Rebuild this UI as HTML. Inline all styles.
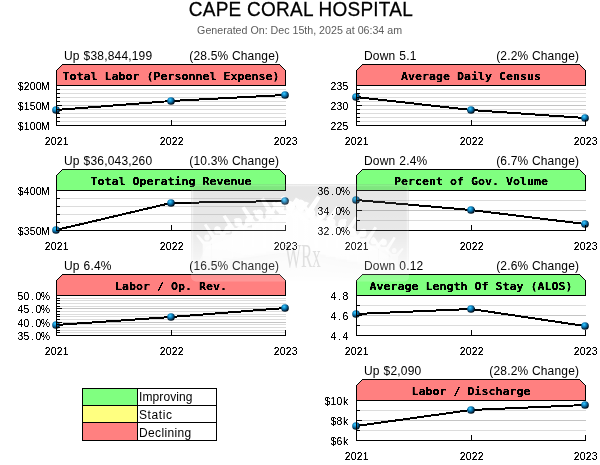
<!DOCTYPE html>
<html lang="en">
<head>
<meta charset="utf-8">
<title>CAPE CORAL HOSPITAL</title>
<style>
html,body{margin:0;padding:0;background:#fff;}
body{width:600px;height:465px;overflow:hidden;}
svg{display:block;}
.t{font-family:"Liberation Sans",Arial,sans-serif;fill:#000;}
.h1{font-size:19px;letter-spacing:0.25px;stroke:#000;stroke-width:0.25px;}
.sub{font-size:10.67px;fill:#5c5c5c;}
.s{font-size:12px;letter-spacing:0.18px;word-spacing:0.4px;}
.sr{font-size:12px;letter-spacing:0.18px;}
.lg{font-size:12px;}
.d{font-family:"Liberation Sans",Arial,sans-serif;font-size:10.4px;fill:#000;filter:url(#thin);}
.b{font-family:"DejaVu Sans Mono","Liberation Mono",monospace;font-weight:bold;font-size:11.63px;fill:#000;filter:url(#crisp);}
.ax{stroke:#000;stroke-width:1;fill:none;}
.g1{stroke:#dcdcdc;stroke-width:1;}
.g2{stroke:#c4c4c4;stroke-width:1;}
.ln{stroke:#000;stroke-width:2;fill:none;}
</style>
</head>
<body>
<svg width="600" height="465" viewBox="0 0 600 465">
<defs>
<radialGradient id="ball" cx="0.38" cy="0.33" r="0.74">
<stop offset="0" stop-color="#48d4ff"/>
<stop offset="0.14" stop-color="#26b0ea"/>
<stop offset="0.36" stop-color="#1084c0"/>
<stop offset="0.58" stop-color="#075280"/>
<stop offset="0.8" stop-color="#011c30"/>
<stop offset="1" stop-color="#00060c"/>
</radialGradient>
<filter id="crisp" x="-5%" y="-30%" width="110%" height="160%" color-interpolation-filters="sRGB"><feComponentTransfer><feFuncA type="linear" slope="2.5" intercept="-0.4"/></feComponentTransfer></filter>
<filter id="thin" x="-5%" y="-30%" width="110%" height="160%" color-interpolation-filters="sRGB"><feComponentTransfer><feFuncA type="linear" slope="2.8" intercept="-0.7"/></feComponentTransfer></filter>
</defs>
<rect x="0" y="0" width="600" height="465" fill="#fff"/>
<text class="t h1" transform="translate(300.9,16.1) scale(1,1.07)" text-anchor="middle">CAPE CORAL HOSPITAL</text>
<text class="t sub" x="299.6" y="33.5" text-anchor="middle">Generated On: Dec 15th, 2025 at 06:34 am</text>
<g shape-rendering="crispEdges">
<line class="g1" x1="57" y1="89.5" x2="286" y2="89.5"/>
<line class="g1" x1="57" y1="93.5" x2="286" y2="93.5"/>
<line class="g1" x1="57" y1="97.5" x2="286" y2="97.5"/>
<line class="g1" x1="57" y1="101.5" x2="286" y2="101.5"/>
<line class="g2" x1="57" y1="105.5" x2="286" y2="105.5"/>
<line class="g1" x1="57" y1="109.5" x2="286" y2="109.5"/>
<line class="g1" x1="57" y1="113.5" x2="286" y2="113.5"/>
<line class="g1" x1="57" y1="117.5" x2="286" y2="117.5"/>
<line class="g1" x1="57" y1="121.5" x2="286" y2="121.5"/>
<polyline class="ln" points="56,110 171,101 285,95"/>
</g>
<circle cx="56" cy="110" r="3.85" fill="url(#ball)"/>
<circle cx="171" cy="101" r="3.85" fill="url(#ball)"/>
<circle cx="285" cy="95" r="3.85" fill="url(#ball)"/>
<g shape-rendering="crispEdges">
<line class="ax" x1="57" y1="85.5" x2="62" y2="85.5"/>
<line class="ax" x1="57" y1="89.5" x2="60" y2="89.5"/>
<line class="ax" x1="57" y1="93.5" x2="60" y2="93.5"/>
<line class="ax" x1="57" y1="97.5" x2="60" y2="97.5"/>
<line class="ax" x1="57" y1="101.5" x2="60" y2="101.5"/>
<line class="ax" x1="57" y1="105.5" x2="62" y2="105.5"/>
<line class="ax" x1="57" y1="109.5" x2="60" y2="109.5"/>
<line class="ax" x1="57" y1="113.5" x2="60" y2="113.5"/>
<line class="ax" x1="57" y1="117.5" x2="60" y2="117.5"/>
<line class="ax" x1="57" y1="121.5" x2="60" y2="121.5"/>
<line class="ax" x1="57" y1="125.5" x2="62" y2="125.5"/>
<path class="ax" d="M56.5 85V125.5H286"/>
<path class="ax" d="M171.5 120v5M285.5 120v6"/>
<path d="M56.5 85.5V70.5L62.5 64.5H279.5L285.5 70.5V85.5Z" fill="#ff8080" stroke="#000" stroke-width="1"/>
</g>
<text class="b" transform="translate(171,80) scale(1,0.93)" text-anchor="middle">Total Labor (Personnel Expense)</text>
<text class="d" x="17.7" y="90.0" dx="0.11 0.22 0.22 0.22 -0.52">$200M</text>
<text class="d" x="17.7" y="110.0" dx="0.11 0.22 0.22 0.22 -0.52">$150M</text>
<text class="d" x="17.7" y="130.0" dx="0.11 0.22 0.22 0.22 -0.52">$100M</text>
<text class="d" x="44.7" y="145.0" dx="0.11 0.22 0.22 0.22">2021</text>
<text class="d" x="159.7" y="145.0" dx="0.11 0.22 0.22 0.22">2022</text>
<text class="d" x="273.7" y="145.0" dx="0.11 0.22 0.22 0.22">2023</text>
<text class="t s" x="64" y="59.5">Up $38,844,199</text>
<text class="t sr" x="279.2" y="59.5" text-anchor="end">(28.5% Change)</text>
<g shape-rendering="crispEdges">
<line class="g1" x1="57" y1="198.5" x2="286" y2="198.5"/>
<line class="g1" x1="57" y1="206.5" x2="286" y2="206.5"/>
<line class="g1" x1="57" y1="214.5" x2="286" y2="214.5"/>
<line class="g1" x1="57" y1="222.5" x2="286" y2="222.5"/>
<polyline class="ln" points="56,230 171,203 285,201"/>
</g>
<circle cx="56" cy="230" r="3.85" fill="url(#ball)"/>
<circle cx="171" cy="203" r="3.85" fill="url(#ball)"/>
<circle cx="285" cy="201" r="3.85" fill="url(#ball)"/>
<g shape-rendering="crispEdges">
<line class="ax" x1="57" y1="190.5" x2="62" y2="190.5"/>
<line class="ax" x1="57" y1="198.5" x2="60" y2="198.5"/>
<line class="ax" x1="57" y1="206.5" x2="60" y2="206.5"/>
<line class="ax" x1="57" y1="214.5" x2="60" y2="214.5"/>
<line class="ax" x1="57" y1="222.5" x2="60" y2="222.5"/>
<line class="ax" x1="57" y1="230.5" x2="62" y2="230.5"/>
<path class="ax" d="M56.5 190V230.5H286"/>
<path class="ax" d="M171.5 225v5M285.5 225v6"/>
<path d="M56.5 190.5V175.5L62.5 169.5H279.5L285.5 175.5V190.5Z" fill="#80ff80" stroke="#000" stroke-width="1"/>
</g>
<text class="b" transform="translate(171,185) scale(1,0.93)" text-anchor="middle">Total Operating Revenue</text>
<text class="d" x="17.7" y="195.0" dx="0.11 0.22 0.22 0.22 -0.52">$400M</text>
<text class="d" x="17.7" y="235.0" dx="0.11 0.22 0.22 0.22 -0.52">$350M</text>
<text class="d" x="44.7" y="250.0" dx="0.11 0.22 0.22 0.22">2021</text>
<text class="d" x="159.7" y="250.0" dx="0.11 0.22 0.22 0.22">2022</text>
<text class="d" x="273.7" y="250.0" dx="0.11 0.22 0.22 0.22">2023</text>
<text class="t s" x="64" y="164.5">Up $36,043,260</text>
<text class="t sr" x="279.2" y="164.5" text-anchor="end">(10.3% Change)</text>
<g shape-rendering="crispEdges">
<line class="g1" x1="57" y1="298.5" x2="286" y2="298.5"/>
<line class="g1" x1="57" y1="300.5" x2="286" y2="300.5"/>
<line class="g1" x1="57" y1="303.5" x2="286" y2="303.5"/>
<line class="g1" x1="57" y1="306.5" x2="286" y2="306.5"/>
<line class="g2" x1="57" y1="308.5" x2="286" y2="308.5"/>
<line class="g1" x1="57" y1="311.5" x2="286" y2="311.5"/>
<line class="g1" x1="57" y1="314.5" x2="286" y2="314.5"/>
<line class="g1" x1="57" y1="316.5" x2="286" y2="316.5"/>
<line class="g1" x1="57" y1="319.5" x2="286" y2="319.5"/>
<line class="g2" x1="57" y1="322.5" x2="286" y2="322.5"/>
<line class="g1" x1="57" y1="324.5" x2="286" y2="324.5"/>
<line class="g1" x1="57" y1="327.5" x2="286" y2="327.5"/>
<line class="g1" x1="57" y1="330.5" x2="286" y2="330.5"/>
<line class="g1" x1="57" y1="332.5" x2="286" y2="332.5"/>
<polyline class="ln" points="56,325 171,317 285,308"/>
</g>
<circle cx="56" cy="325" r="3.85" fill="url(#ball)"/>
<circle cx="171" cy="317" r="3.85" fill="url(#ball)"/>
<circle cx="285" cy="308" r="3.85" fill="url(#ball)"/>
<g shape-rendering="crispEdges">
<line class="ax" x1="57" y1="295.5" x2="62" y2="295.5"/>
<line class="ax" x1="57" y1="298.5" x2="60" y2="298.5"/>
<line class="ax" x1="57" y1="300.5" x2="60" y2="300.5"/>
<line class="ax" x1="57" y1="303.5" x2="60" y2="303.5"/>
<line class="ax" x1="57" y1="306.5" x2="60" y2="306.5"/>
<line class="ax" x1="57" y1="308.5" x2="62" y2="308.5"/>
<line class="ax" x1="57" y1="311.5" x2="60" y2="311.5"/>
<line class="ax" x1="57" y1="314.5" x2="60" y2="314.5"/>
<line class="ax" x1="57" y1="316.5" x2="60" y2="316.5"/>
<line class="ax" x1="57" y1="319.5" x2="60" y2="319.5"/>
<line class="ax" x1="57" y1="322.5" x2="62" y2="322.5"/>
<line class="ax" x1="57" y1="324.5" x2="60" y2="324.5"/>
<line class="ax" x1="57" y1="327.5" x2="60" y2="327.5"/>
<line class="ax" x1="57" y1="330.5" x2="60" y2="330.5"/>
<line class="ax" x1="57" y1="332.5" x2="60" y2="332.5"/>
<line class="ax" x1="57" y1="335.5" x2="62" y2="335.5"/>
<path class="ax" d="M56.5 295V335.5H286"/>
<path class="ax" d="M171.5 330v5M285.5 330v6"/>
<path d="M56.5 295.5V280.5L62.5 274.5H279.5L285.5 280.5V295.5Z" fill="#ff8080" stroke="#000" stroke-width="1"/>
</g>
<text class="b" transform="translate(171,290) scale(1,0.93)" text-anchor="middle">Labor / Op. Rev.</text>
<text class="d" x="17.4" y="300.0" dx="0.11 0.22 1.66 1.66 -0.56">50.0%</text>
<text class="d" x="17.4" y="313.3" dx="0.11 0.22 1.66 1.66 -0.56">45.0%</text>
<text class="d" x="17.4" y="326.7" dx="0.11 0.22 1.66 1.66 -0.56">40.0%</text>
<text class="d" x="17.4" y="340.0" dx="0.11 0.22 1.66 1.66 -0.56">35.0%</text>
<text class="d" x="44.7" y="355.0" dx="0.11 0.22 0.22 0.22">2021</text>
<text class="d" x="159.7" y="355.0" dx="0.11 0.22 0.22 0.22">2022</text>
<text class="d" x="273.7" y="355.0" dx="0.11 0.22 0.22 0.22">2023</text>
<text class="t s" x="64" y="269.5">Up 6.4%</text>
<text class="t sr" x="279.2" y="269.5" text-anchor="end">(16.5% Change)</text>
<g shape-rendering="crispEdges">
<line class="g1" x1="357" y1="89.5" x2="586" y2="89.5"/>
<line class="g1" x1="357" y1="93.5" x2="586" y2="93.5"/>
<line class="g1" x1="357" y1="97.5" x2="586" y2="97.5"/>
<line class="g1" x1="357" y1="101.5" x2="586" y2="101.5"/>
<line class="g2" x1="357" y1="105.5" x2="586" y2="105.5"/>
<line class="g1" x1="357" y1="109.5" x2="586" y2="109.5"/>
<line class="g1" x1="357" y1="113.5" x2="586" y2="113.5"/>
<line class="g1" x1="357" y1="117.5" x2="586" y2="117.5"/>
<line class="g1" x1="357" y1="121.5" x2="586" y2="121.5"/>
<polyline class="ln" points="356,97 471,110 585,118"/>
</g>
<circle cx="356" cy="97" r="3.85" fill="url(#ball)"/>
<circle cx="471" cy="110" r="3.85" fill="url(#ball)"/>
<circle cx="585" cy="118" r="3.85" fill="url(#ball)"/>
<g shape-rendering="crispEdges">
<line class="ax" x1="357" y1="85.5" x2="362" y2="85.5"/>
<line class="ax" x1="357" y1="89.5" x2="360" y2="89.5"/>
<line class="ax" x1="357" y1="93.5" x2="360" y2="93.5"/>
<line class="ax" x1="357" y1="97.5" x2="360" y2="97.5"/>
<line class="ax" x1="357" y1="101.5" x2="360" y2="101.5"/>
<line class="ax" x1="357" y1="105.5" x2="362" y2="105.5"/>
<line class="ax" x1="357" y1="109.5" x2="360" y2="109.5"/>
<line class="ax" x1="357" y1="113.5" x2="360" y2="113.5"/>
<line class="ax" x1="357" y1="117.5" x2="360" y2="117.5"/>
<line class="ax" x1="357" y1="121.5" x2="360" y2="121.5"/>
<line class="ax" x1="357" y1="125.5" x2="362" y2="125.5"/>
<path class="ax" d="M356.5 85V125.5H586"/>
<path class="ax" d="M471.5 120v5M585.5 120v6"/>
<path d="M356.5 85.5V70.5L362.5 64.5H579.5L585.5 70.5V85.5Z" fill="#ff8080" stroke="#000" stroke-width="1"/>
</g>
<text class="b" transform="translate(471,80) scale(1,0.93)" text-anchor="middle">Average Daily Census</text>
<text class="d" x="330.5" y="90.0" dx="0.11 0.22 0.22">235</text>
<text class="d" x="330.5" y="110.0" dx="0.11 0.22 0.22">230</text>
<text class="d" x="330.5" y="130.0" dx="0.11 0.22 0.22">225</text>
<text class="d" x="344.7" y="145.0" dx="0.11 0.22 0.22 0.22">2021</text>
<text class="d" x="459.7" y="145.0" dx="0.11 0.22 0.22 0.22">2022</text>
<text class="d" x="573.7" y="145.0" dx="0.11 0.22 0.22 0.22">2023</text>
<text class="t s" x="364" y="59.5">Down 5.1</text>
<text class="t sr" x="579.2" y="59.5" text-anchor="end">(2.2% Change)</text>
<g shape-rendering="crispEdges">
<line class="g1" x1="357" y1="200.5" x2="586" y2="200.5"/>
<line class="g2" x1="357" y1="210.5" x2="586" y2="210.5"/>
<line class="g1" x1="357" y1="220.5" x2="586" y2="220.5"/>
<polyline class="ln" points="356,200 471,210 585,224"/>
</g>
<circle cx="356" cy="200" r="3.85" fill="url(#ball)"/>
<circle cx="471" cy="210" r="3.85" fill="url(#ball)"/>
<circle cx="585" cy="224" r="3.85" fill="url(#ball)"/>
<g shape-rendering="crispEdges">
<line class="ax" x1="357" y1="190.5" x2="362" y2="190.5"/>
<line class="ax" x1="357" y1="200.5" x2="360" y2="200.5"/>
<line class="ax" x1="357" y1="210.5" x2="362" y2="210.5"/>
<line class="ax" x1="357" y1="220.5" x2="360" y2="220.5"/>
<line class="ax" x1="357" y1="230.5" x2="362" y2="230.5"/>
<path class="ax" d="M356.5 190V230.5H586"/>
<path class="ax" d="M471.5 225v5M585.5 225v6"/>
<path d="M356.5 190.5V175.5L362.5 169.5H579.5L585.5 175.5V190.5Z" fill="#80ff80" stroke="#000" stroke-width="1"/>
</g>
<text class="b" transform="translate(471,185) scale(1,0.93)" text-anchor="middle">Percent of Gov. Volume</text>
<text class="d" x="317.4" y="195.0" dx="0.11 0.22 1.66 1.66 -0.56">36.0%</text>
<text class="d" x="317.4" y="215.0" dx="0.11 0.22 1.66 1.66 -0.56">34.0%</text>
<text class="d" x="317.4" y="235.0" dx="0.11 0.22 1.66 1.66 -0.56">32.0%</text>
<text class="d" x="344.7" y="250.0" dx="0.11 0.22 0.22 0.22">2021</text>
<text class="d" x="459.7" y="250.0" dx="0.11 0.22 0.22 0.22">2022</text>
<text class="d" x="573.7" y="250.0" dx="0.11 0.22 0.22 0.22">2023</text>
<text class="t s" x="364" y="164.5">Down 2.4%</text>
<text class="t sr" x="579.2" y="164.5" text-anchor="end">(6.7% Change)</text>
<g shape-rendering="crispEdges">
<line class="g1" x1="357" y1="305.5" x2="586" y2="305.5"/>
<line class="g2" x1="357" y1="315.5" x2="586" y2="315.5"/>
<line class="g1" x1="357" y1="325.5" x2="586" y2="325.5"/>
<polyline class="ln" points="356,314 471,309 585,326"/>
</g>
<circle cx="356" cy="314" r="3.85" fill="url(#ball)"/>
<circle cx="471" cy="309" r="3.85" fill="url(#ball)"/>
<circle cx="585" cy="326" r="3.85" fill="url(#ball)"/>
<g shape-rendering="crispEdges">
<line class="ax" x1="357" y1="295.5" x2="362" y2="295.5"/>
<line class="ax" x1="357" y1="305.5" x2="360" y2="305.5"/>
<line class="ax" x1="357" y1="315.5" x2="362" y2="315.5"/>
<line class="ax" x1="357" y1="325.5" x2="360" y2="325.5"/>
<line class="ax" x1="357" y1="335.5" x2="362" y2="335.5"/>
<path class="ax" d="M356.5 295V335.5H586"/>
<path class="ax" d="M471.5 330v5M585.5 330v6"/>
<path d="M356.5 295.5V280.5L362.5 274.5H579.5L585.5 280.5V295.5Z" fill="#80ff80" stroke="#000" stroke-width="1"/>
</g>
<text class="b" transform="translate(471,290) scale(1,0.93)" text-anchor="middle">Average Length Of Stay (ALOS)</text>
<text class="d" x="330.5" y="300.0" dx="0.11 1.66 1.66">4.8</text>
<text class="d" x="330.5" y="320.0" dx="0.11 1.66 1.66">4.6</text>
<text class="d" x="330.5" y="340.0" dx="0.11 1.66 1.66">4.4</text>
<text class="d" x="344.7" y="355.0" dx="0.11 0.22 0.22 0.22">2021</text>
<text class="d" x="459.7" y="355.0" dx="0.11 0.22 0.22 0.22">2022</text>
<text class="d" x="573.7" y="355.0" dx="0.11 0.22 0.22 0.22">2023</text>
<text class="t s" x="364" y="269.5">Down 0.12</text>
<text class="t sr" x="579.2" y="269.5" text-anchor="end">(2.6% Change)</text>
<g shape-rendering="crispEdges">
<line class="g1" x1="357" y1="410.5" x2="586" y2="410.5"/>
<line class="g2" x1="357" y1="420.5" x2="586" y2="420.5"/>
<line class="g1" x1="357" y1="430.5" x2="586" y2="430.5"/>
<polyline class="ln" points="356,426 471,410 585,405"/>
</g>
<circle cx="356" cy="426" r="3.85" fill="url(#ball)"/>
<circle cx="471" cy="410" r="3.85" fill="url(#ball)"/>
<circle cx="585" cy="405" r="3.85" fill="url(#ball)"/>
<g shape-rendering="crispEdges">
<line class="ax" x1="357" y1="400.5" x2="362" y2="400.5"/>
<line class="ax" x1="357" y1="410.5" x2="360" y2="410.5"/>
<line class="ax" x1="357" y1="420.5" x2="362" y2="420.5"/>
<line class="ax" x1="357" y1="430.5" x2="360" y2="430.5"/>
<line class="ax" x1="357" y1="440.5" x2="362" y2="440.5"/>
<path class="ax" d="M356.5 400V440.5H586"/>
<path class="ax" d="M471.5 435v5M585.5 435v6"/>
<path d="M356.5 400.5V385.5L362.5 379.5H579.5L585.5 385.5V400.5Z" fill="#ff8080" stroke="#000" stroke-width="1"/>
</g>
<text class="b" transform="translate(471,395) scale(1,0.93)" text-anchor="middle">Labor / Discharge</text>
<text class="d" x="324.5" y="405.0" dx="0.11 0.22 0.22 0.51">$10k</text>
<text class="d" x="330.5" y="425.0" dx="0.11 0.22 0.51">$8k</text>
<text class="d" x="330.5" y="445.0" dx="0.11 0.22 0.51">$6k</text>
<text class="d" x="344.7" y="460.0" dx="0.11 0.22 0.22 0.22">2021</text>
<text class="d" x="459.7" y="460.0" dx="0.11 0.22 0.22 0.22">2022</text>
<text class="d" x="573.7" y="460.0" dx="0.11 0.22 0.22 0.22">2023</text>
<text class="t s" x="364" y="374.5">Up $2,090</text>
<text class="t sr" x="579.2" y="374.5" text-anchor="end">(28.2% Change)</text>
<g shape-rendering="crispEdges">
<rect x="82.5" y="388.5" width="55" height="17" fill="#80ff80" stroke="#000"/>
<rect x="137.5" y="388.5" width="79" height="17" fill="#fff" stroke="#000"/>
<rect x="82.5" y="405.5" width="55" height="17" fill="#ffff80" stroke="#000"/>
<rect x="137.5" y="405.5" width="79" height="17" fill="#fff" stroke="#000"/>
<rect x="82.5" y="422.5" width="55" height="18" fill="#ff8080" stroke="#000"/>
<rect x="137.5" y="422.5" width="79" height="18" fill="#fff" stroke="#000"/>
</g>
<text class="t lg" x="139" y="401" letter-spacing="0.1">Improving</text>
<text class="t lg" x="139" y="418.6" letter-spacing="0.62">Static</text>
<text class="t lg" x="139" y="436.8" letter-spacing="0.36">Declining</text>
<g id="wm" opacity="0.185">
<linearGradient id="wmf" gradientUnits="userSpaceOnUse" x1="0" y1="186" x2="0" y2="274"><stop offset="0" stop-color="#fff" stop-opacity="1"/><stop offset="0.65" stop-color="#fff" stop-opacity="0.9"/><stop offset="1" stop-color="#fff" stop-opacity="0.2"/></linearGradient>
<radialGradient id="wmc" gradientUnits="userSpaceOnUse" cx="300" cy="262" r="70" gradientTransform="translate(300,262) scale(1.5,0.5) translate(-300,-262)"><stop offset="0" stop-color="#fff" stop-opacity="0.75"/><stop offset="0.6" stop-color="#fff" stop-opacity="0.45"/><stop offset="1" stop-color="#fff" stop-opacity="0"/></radialGradient>
<filter id="soft" x="-5%" y="-10%" width="110%" height="120%"><feGaussianBlur stdDeviation="0.7"/></filter>
<linearGradient id="wmg" x1="0" y1="0" x2="0" y2="1"><stop offset="0" stop-color="#7a7a7a"/><stop offset="0.45" stop-color="#888"/><stop offset="0.75" stop-color="#c4c4c4"/><stop offset="1" stop-color="#fff"/></linearGradient>
<rect x="191" y="184" width="218" height="97.5" rx="5" ry="5" fill="url(#wmg)"/>
<rect x="192.5" y="185.5" width="215" height="94.5" rx="4" ry="4" fill="none" stroke="#fff" stroke-opacity="0.45" stroke-width="1.5"/>
<rect x="194" y="236" width="212" height="44" fill="url(#wmc)"/>
<g fill="url(#wmf)" filter="url(#soft)">
<path d="M198 264L206 247L230 238L255 228L275 216L293 206L310 213L330 223L350 233L370 245L390 257L402 270L380 267L350 260L320 254L300 252L280 253L250 257L220 261Z" fill-opacity="0.85"/>
<path d="M202.7 261.6L202.7 244.3L196.1 235.5L198.0 234.6L204.6 241.6L209.4 241.6L216.0 234.6L217.9 235.5L211.3 244.3L211.3 261.6Z"/><ellipse cx="207.0" cy="237.4" rx="2.7" ry="3.0"/>
<path d="M212.0 259.9L212.0 238.5L203.9 225.0L206.3 223.7L214.4 235.1L220.4 235.1L228.5 223.7L230.9 225.0L222.8 238.5L222.8 259.9Z"/><ellipse cx="217.4" cy="229.9" rx="3.3" ry="3.7"/>
<path d="M222.6 258.3L222.6 237.8L214.9 227.3L217.2 226.4L224.9 234.6L230.7 234.6L238.4 226.4L240.7 227.3L233.0 237.8L233.0 258.3Z"/><ellipse cx="227.8" cy="229.6" rx="3.2" ry="3.5"/>
<path d="M232.0 256.7L232.0 232.0L222.7 216.5L225.4 215.0L234.7 228.1L241.7 228.1L251.0 215.0L253.7 216.5L244.4 232.0L244.4 256.7Z"/><ellipse cx="238.2" cy="222.2" rx="3.8" ry="4.3"/>
<path d="M242.6 255.0L242.6 231.3L233.7 219.2L236.3 218.1L245.3 227.6L251.9 227.6L260.9 218.1L263.5 219.2L254.6 231.3L254.6 255.0Z"/><ellipse cx="248.6" cy="221.9" rx="3.7" ry="4.1"/>
<path d="M252.0 253.4L252.0 225.5L241.5 208.0L244.6 206.3L255.1 221.2L262.9 221.2L273.4 206.3L276.5 208.0L266.0 225.5L266.0 253.4Z"/><ellipse cx="259.0" cy="214.4" rx="4.3" ry="4.8"/>
<path d="M262.6 251.7L262.6 224.8L252.5 211.1L255.4 209.8L265.6 220.6L273.2 220.6L283.4 209.8L286.3 211.1L276.2 224.8L276.2 251.7Z"/><ellipse cx="269.4" cy="214.1" rx="4.2" ry="4.7"/>
<path d="M272.0 250.1L272.0 219.0L260.3 199.5L263.7 197.6L275.4 214.2L284.2 214.2L295.9 197.6L299.3 199.5L287.6 219.0L287.6 250.1Z"/><ellipse cx="279.8" cy="206.6" rx="4.8" ry="5.4"/>
<path d="M282.6 248.4L282.6 218.3L271.3 203.0L274.6 201.5L286.0 213.6L294.4 213.6L305.8 201.5L309.1 203.0L297.8 218.3L297.8 248.4Z"/><ellipse cx="290.2" cy="206.3" rx="4.7" ry="5.2"/>
<path d="M292.6 249.8L292.6 217.9L280.5 197.8L284.0 195.8L296.1 212.8L305.1 212.8L317.2 195.8L320.7 197.8L308.6 217.9L308.6 249.8Z"/><ellipse cx="300.6" cy="205.1" rx="5.0" ry="5.5"/>
<path d="M304.0 252.2L304.0 224.4L293.5 210.2L296.6 208.9L307.1 220.0L314.9 220.0L325.4 208.9L328.5 210.2L318.0 224.4L318.0 252.2Z"/><ellipse cx="311.0" cy="213.3" rx="4.3" ry="4.8"/>
<path d="M314.2 254.6L314.2 225.9L303.4 207.8L306.5 206.0L317.4 221.4L325.4 221.4L336.3 206.0L339.4 207.8L328.6 225.9L328.6 254.6Z"/><ellipse cx="321.4" cy="214.4" rx="4.5" ry="5.0"/>
<path d="M325.6 257.0L325.6 232.4L316.4 219.9L319.1 218.7L328.3 228.6L335.3 228.6L344.5 218.7L347.2 219.9L338.0 232.4L338.0 257.0Z"/><ellipse cx="331.8" cy="222.6" rx="3.8" ry="4.2"/>
<path d="M335.8 259.4L335.8 233.9L326.2 217.9L329.0 216.3L338.6 229.9L345.8 229.9L355.4 216.3L358.2 217.9L348.6 233.9L348.6 259.4Z"/><ellipse cx="342.2" cy="223.7" rx="4.0" ry="4.4"/>
<path d="M347.2 261.8L347.2 240.5L339.2 229.5L341.5 228.5L349.6 237.1L355.6 237.1L363.7 228.5L366.0 229.5L358.0 240.5L358.0 261.8Z"/><ellipse cx="352.6" cy="231.9" rx="3.3" ry="3.7"/>
<path d="M357.4 264.2L357.4 241.9L349.0 227.9L351.4 226.5L359.9 238.4L366.1 238.4L374.6 226.5L377.0 227.9L368.6 241.9L368.6 264.2Z"/><ellipse cx="363.0" cy="233.0" rx="3.5" ry="3.9"/>
<path d="M368.8 266.6L368.8 248.5L362.0 239.2L364.0 238.3L370.8 245.6L376.0 245.6L382.8 238.3L384.8 239.2L378.0 248.5L378.0 266.6Z"/><ellipse cx="373.4" cy="241.2" rx="2.8" ry="3.1"/>
<path d="M379.0 269.0L379.0 249.9L371.8 237.9L373.9 236.7L381.1 246.9L386.5 246.9L393.7 236.7L395.8 237.9L388.6 249.9L388.6 269.0Z"/><ellipse cx="383.8" cy="242.3" rx="3.0" ry="3.3"/>
<path d="M390.4 271.4L390.4 256.5L384.8 248.9L386.4 248.1L392.1 254.1L396.3 254.1L402.0 248.1L403.6 248.9L398.0 256.5L398.0 271.4Z"/><ellipse cx="394.2" cy="250.5" rx="2.3" ry="2.6"/>
</g>
<text transform="translate(285,266.5) scale(0.5,1)" font-family="'Liberation Serif',serif" font-size="34" fill="#5a5a5a">WRx</text>
</g>
</svg>
</body>
</html>
